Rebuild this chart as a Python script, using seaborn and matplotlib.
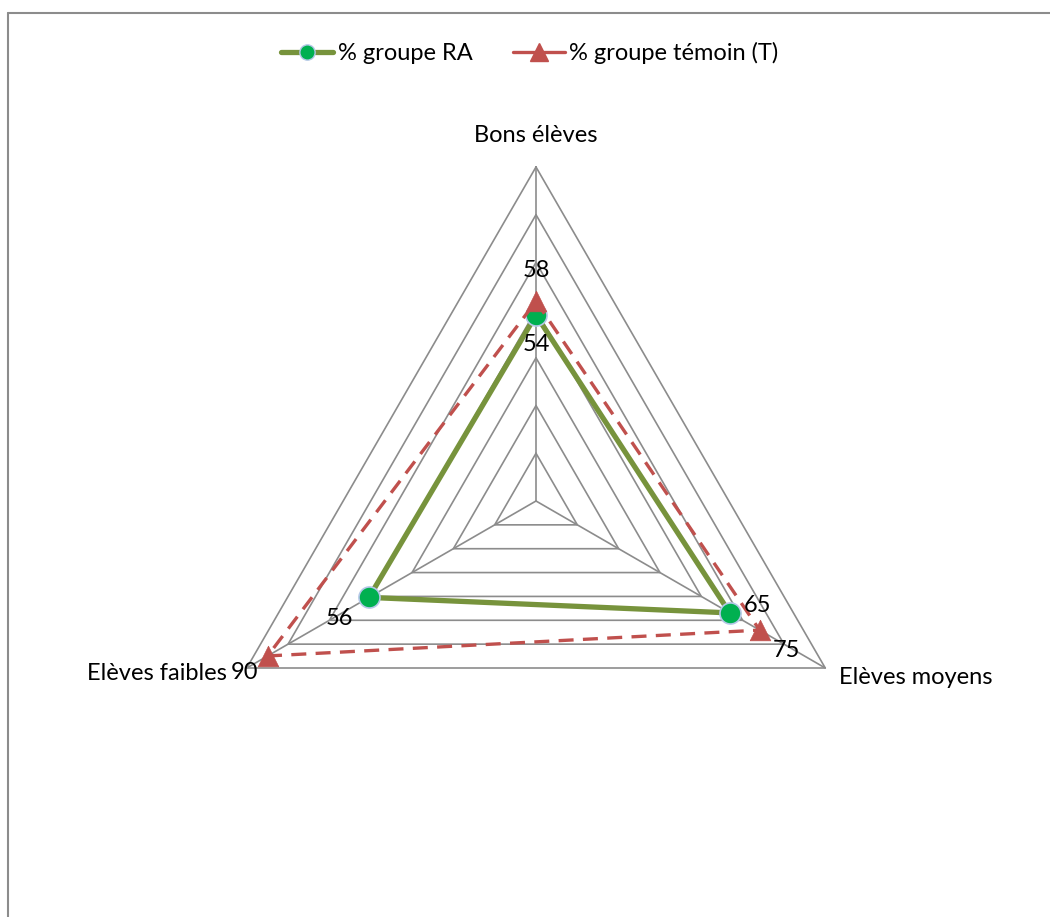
import numpy as np
import pandas as pd
import seaborn as sns
import matplotlib.pyplot as plt
from matplotlib.lines import Line2D

categories = ["Bons élèves", "Elèves moyens", "Elèves faibles"]
groupe_ra = [54, 65, 56]
groupe_temoin = [58, 75, 90]
series_names = ["% groupe RA", "% groupe témoin (T)"]

r_max = 97
n_rings = 7
angles = np.deg2rad([90, -30, 210])

sns.set_theme(style="white")
plt.rcParams['font.family'] = ['Lato', 'DejaVu Sans']
plt.rcParams['text.color'] = 'black'

W, H = 1050, 917
cx, cy, rad_px = 536, 501, 334
s = r_max / rad_px

fig = plt.figure(figsize=(W / 100, H / 100), dpi=100)
ax = fig.add_axes([0, 0, 1, 1])
ax.set_xlim(-cx * s, (W - cx) * s)
ax.set_ylim(-(H - cy) * s, cy * s)
ax.axis('off')


def to_xy(values):
    v = np.asarray(values, dtype=float)
    return v * np.cos(angles), v * np.sin(angles)


grid_col = '#8c8c8c'
# anneaux triangulaires + rayons
for k in range(1, n_rings + 1):
    gx, gy = to_xy([r_max * k / n_rings] * 3)
    ax.plot(np.append(gx, gx[0]), np.append(gy, gy[0]), color=grid_col, lw=1.2, zorder=1)
for a in angles:
    ax.plot([0, r_max * np.cos(a)], [0, r_max * np.sin(a)], color=grid_col, lw=1.2, zorder=1)

rows = []
for name, vals in zip(series_names, [groupe_ra, groupe_temoin]):
    x, y = to_xy(vals)
    for i in range(4):
        rows.append({'serie': name, 'x': x[i % 3], 'y': y[i % 3], 'ordre': i})
df = pd.DataFrame(rows)

green_line = '#77933C'
green_pt = '#00B050'
red = '#C0504D'

ra = df[df['serie'] == series_names[0]]
te = df[df['serie'] == series_names[1]]

sns.lineplot(data=ra, x='x', y='y', sort=False, estimator=None, color=green_line,
             lw=3.8, ax=ax, zorder=3, legend=False)
sns.scatterplot(data=ra[ra['ordre'] < 3], x='x', y='y', marker='o', s=230, color=green_pt,
                edgecolor='#b4c7e7', linewidth=1.2, ax=ax, zorder=4, legend=False)
sns.lineplot(data=te, x='x', y='y', sort=False, estimator=None, color=red,
             lw=2.4, ax=ax, zorder=5, legend=False)
ax.lines[-1].set_dashes([4.5, 2.8])
sns.scatterplot(data=te[te['ordre'] < 3], x='x', y='y', marker='^', s=220, color=red,
                edgecolor=red, linewidth=0.5, ax=ax, zorder=6, legend=False)

fs = 17
# libellés des catégories
ax.annotate(categories[0], (0, r_max), xytext=(0, 23), textcoords='offset points',
            ha='center', va='center', fontsize=fs)
bx, by = to_xy([r_max] * 3)
ax.annotate(categories[1], (bx[1], by[1]), xytext=(10, -7), textcoords='offset points',
            ha='left', va='center', fontsize=fs)
ax.annotate(categories[2], (bx[2], by[2]), xytext=(-14, -4), textcoords='offset points',
            ha='right', va='center', fontsize=fs)

# étiquettes de données
rx, ry = to_xy(groupe_ra)
tx, ty = to_xy(groupe_temoin)
ra_off = [(0, -21), (20, 5), (-21, -15)]
te_off = [(0, 22), (19, -15), (-7, -12)]
te_ha = ['center', 'center', 'right']
for i in range(3):
    ax.annotate(str(groupe_ra[i]), (rx[i], ry[i]), xytext=ra_off[i], textcoords='offset points',
                ha='center', va='center', fontsize=fs, zorder=8)
    ax.annotate(str(groupe_temoin[i]), (tx[i], ty[i]), xytext=te_off[i], textcoords='offset points',
                ha=te_ha[i], va='center', fontsize=fs, zorder=8)

handles = [
    Line2D([], [], color=green_line, lw=3.8, marker='o', markersize=11,
           markerfacecolor=green_pt, markeredgecolor='#b4c7e7'),
    Line2D([], [], color=red, lw=2.4, marker='^', markersize=13,
           markerfacecolor=red, markeredgecolor=red),
]
fig.legend(handles, series_names, loc='center', bbox_to_anchor=(530 / W, 1 - 53 / H),
           ncol=2, frameon=False, fontsize=fs, handlelength=2.2, handletextpad=0.2,
           columnspacing=1.7)

# bordure de la zone du graphique (gauche et haut visibles)
bc = '#8c8c8c'
fig.add_artist(Line2D([8 / W, 8 / W], [0, 1 - 13 / H], color=bc, lw=1.5))
fig.add_artist(Line2D([8 / W, 1], [1 - 13 / H, 1 - 13 / H], color=bc, lw=1.5))

fig.savefig('out.png', dpi=100)
